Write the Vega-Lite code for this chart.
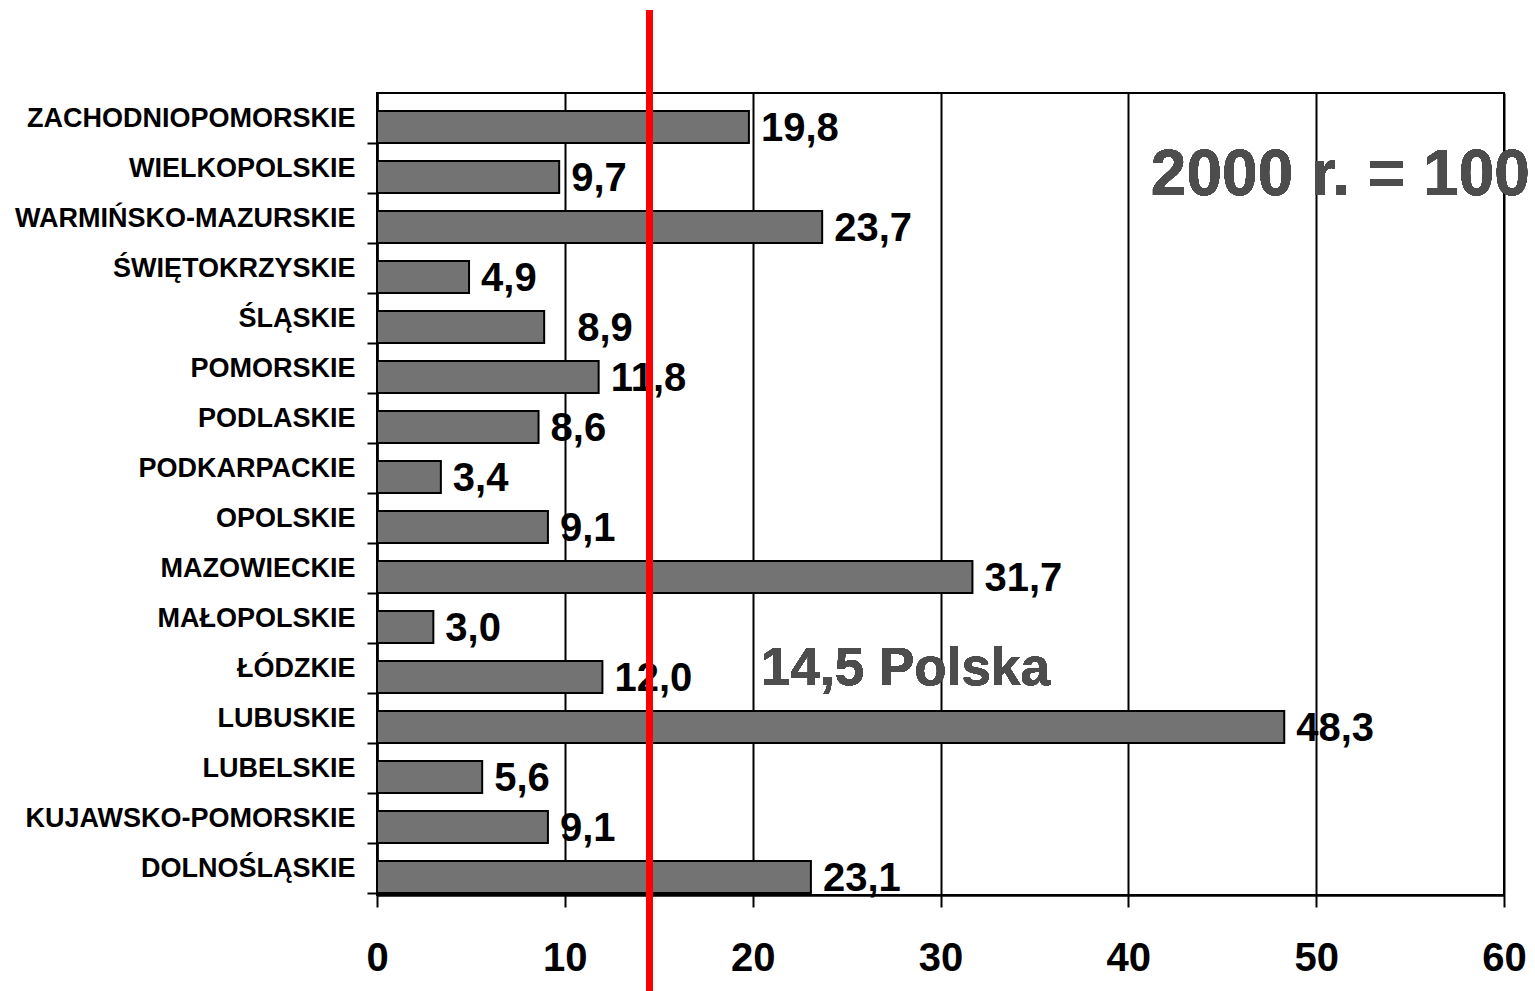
{
  "$schema": "https://vega.github.io/schema/vega-lite/v6.json",
  "autosize": "none",
  "width": 1127,
  "height": 802,
  "padding": {"left": 377, "top": 93, "right": 31, "bottom": 96},
  "background": "white",
  "config": {
    "font": "Liberation Sans",
    "view": {"stroke": "black", "strokeWidth": 2},
    "locale": {"number": {"decimal": ",", "thousands": " ", "grouping": [3], "currency": ["", " zł"]}}
  },
  "data": {
    "values": [
      {"region": "ZACHODNIOPOMORSKIE", "value": 19.8},
      {"region": "WIELKOPOLSKIE", "value": 9.7},
      {"region": "WARMIŃSKO-MAZURSKIE", "value": 23.7},
      {"region": "ŚWIĘTOKRZYSKIE", "value": 4.9},
      {"region": "ŚLĄSKIE", "value": 8.9},
      {"region": "POMORSKIE", "value": 11.8},
      {"region": "PODLASKIE", "value": 8.6},
      {"region": "PODKARPACKIE", "value": 3.4},
      {"region": "OPOLSKIE", "value": 9.1},
      {"region": "MAZOWIECKIE", "value": 31.7},
      {"region": "MAŁOPOLSKIE", "value": 3.0},
      {"region": "ŁÓDZKIE", "value": 12.0},
      {"region": "LUBUSKIE", "value": 48.3},
      {"region": "LUBELSKIE", "value": 5.6},
      {"region": "KUJAWSKO-POMORSKIE", "value": 9.1},
      {"region": "DOLNOŚLĄSKIE", "value": 23.1}
    ]
  },
  "layer": [
    {
      "layer": [
        {
          "mark": {"type": "bar", "fill": "#737373", "stroke": "black", "strokeWidth": 2},
          "encoding": {
            "x": {
              "field": "value", "type": "quantitative",
              "scale": {"domain": [0, 60], "nice": false},
              "axis": {
                "title": null, "values": [0, 10, 20, 30, 40, 50, 60],
                "grid": true, "gridColor": "black", "gridWidth": 2, "gridOpacity": 1,
                "domainColor": "black", "domainWidth": 2.5,
                "tickColor": "black", "tickWidth": 2, "tickSize": 12,
                "labelFontSize": 40, "labelFontWeight": "bold", "labelColor": "black",
                "labelFont": "Liberation Sans", "labelPadding": 31, "labelFlush": false
              }
            },
            "y": {
              "field": "region", "type": "nominal", "sort": null,
              "scale": {"paddingInner": 0.36, "paddingOuter": 0.2, "align": 0.9},
              "axis": {
                "title": null, "grid": false,
                "domainColor": "black", "domainWidth": 2.5,
                "tickColor": "black", "tickWidth": 2, "tickSize": 10,
                "tickOffset": 16, "labelOffset": -25,
                "labelFontSize": 27, "labelFontWeight": "bold", "labelColor": "black",
                "labelFont": "Liberation Sans", "labelPadding": 12, "labelLimit": 500
              }
            }
          }
        },
        {
          "transform": [{"filter": "datum.region !== 'ŚLĄSKIE'"}],
          "mark": {"type": "text", "align": "left", "baseline": "middle", "dx": 12, "dy": 2, "fontSize": 40, "fontWeight": "bold", "color": "black", "font": "Liberation Sans"},
          "encoding": {
            "x": {"field": "value", "type": "quantitative"},
            "y": {"field": "region", "type": "nominal", "sort": null},
            "text": {"field": "value", "type": "quantitative", "format": ".1f"}
          }
        },
        {
          "transform": [{"filter": "datum.region === 'ŚLĄSKIE'"}],
          "mark": {"type": "text", "align": "left", "baseline": "middle", "dx": 33, "dy": 2, "fontSize": 40, "fontWeight": "bold", "color": "black", "font": "Liberation Sans"},
          "encoding": {
            "x": {"field": "value", "type": "quantitative"},
            "y": {"field": "region", "type": "nominal", "sort": null},
            "text": {"field": "value", "type": "quantitative", "format": ".1f"}
          }
        },
        {
          "mark": {"type": "text", "align": "left", "baseline": "alphabetic", "dy": 18, "fontSize": 64, "fontWeight": "bold", "color": "#4d4d4d", "font": "Liberation Sans"},
          "encoding": {
            "x": {"datum": 41.2, "type": "quantitative"},
            "y": {"datum": "WIELKOPOLSKIE", "type": "nominal"},
            "text": {"value": "2000 r. = 100"}
          }
        },
        {
          "mark": {"type": "text", "align": "left", "baseline": "alphabetic", "dy": 8, "fontSize": 53, "fontWeight": "bold", "color": "#4d4d4d", "font": "Liberation Sans"},
          "encoding": {
            "x": {"datum": 20.45, "type": "quantitative"},
            "y": {"datum": "ŁÓDZKIE", "type": "nominal"},
            "text": {"value": "14,5 Polska"}
          }
        }
      ]
    },
    {
      "mark": {"type": "rule", "color": "#ff0000", "strokeWidth": 6, "clip": false},
      "encoding": {
        "x": {"datum": 14.5, "type": "quantitative"},
        "y": {"datum": 1.1035, "type": "quantitative", "scale": {"domain": [0, 1], "nice": false, "zero": false}, "axis": null},
        "y2": {"datum": -0.125}
      }
    }
  ],
  "resolve": {"scale": {"y": "independent"}}
}
